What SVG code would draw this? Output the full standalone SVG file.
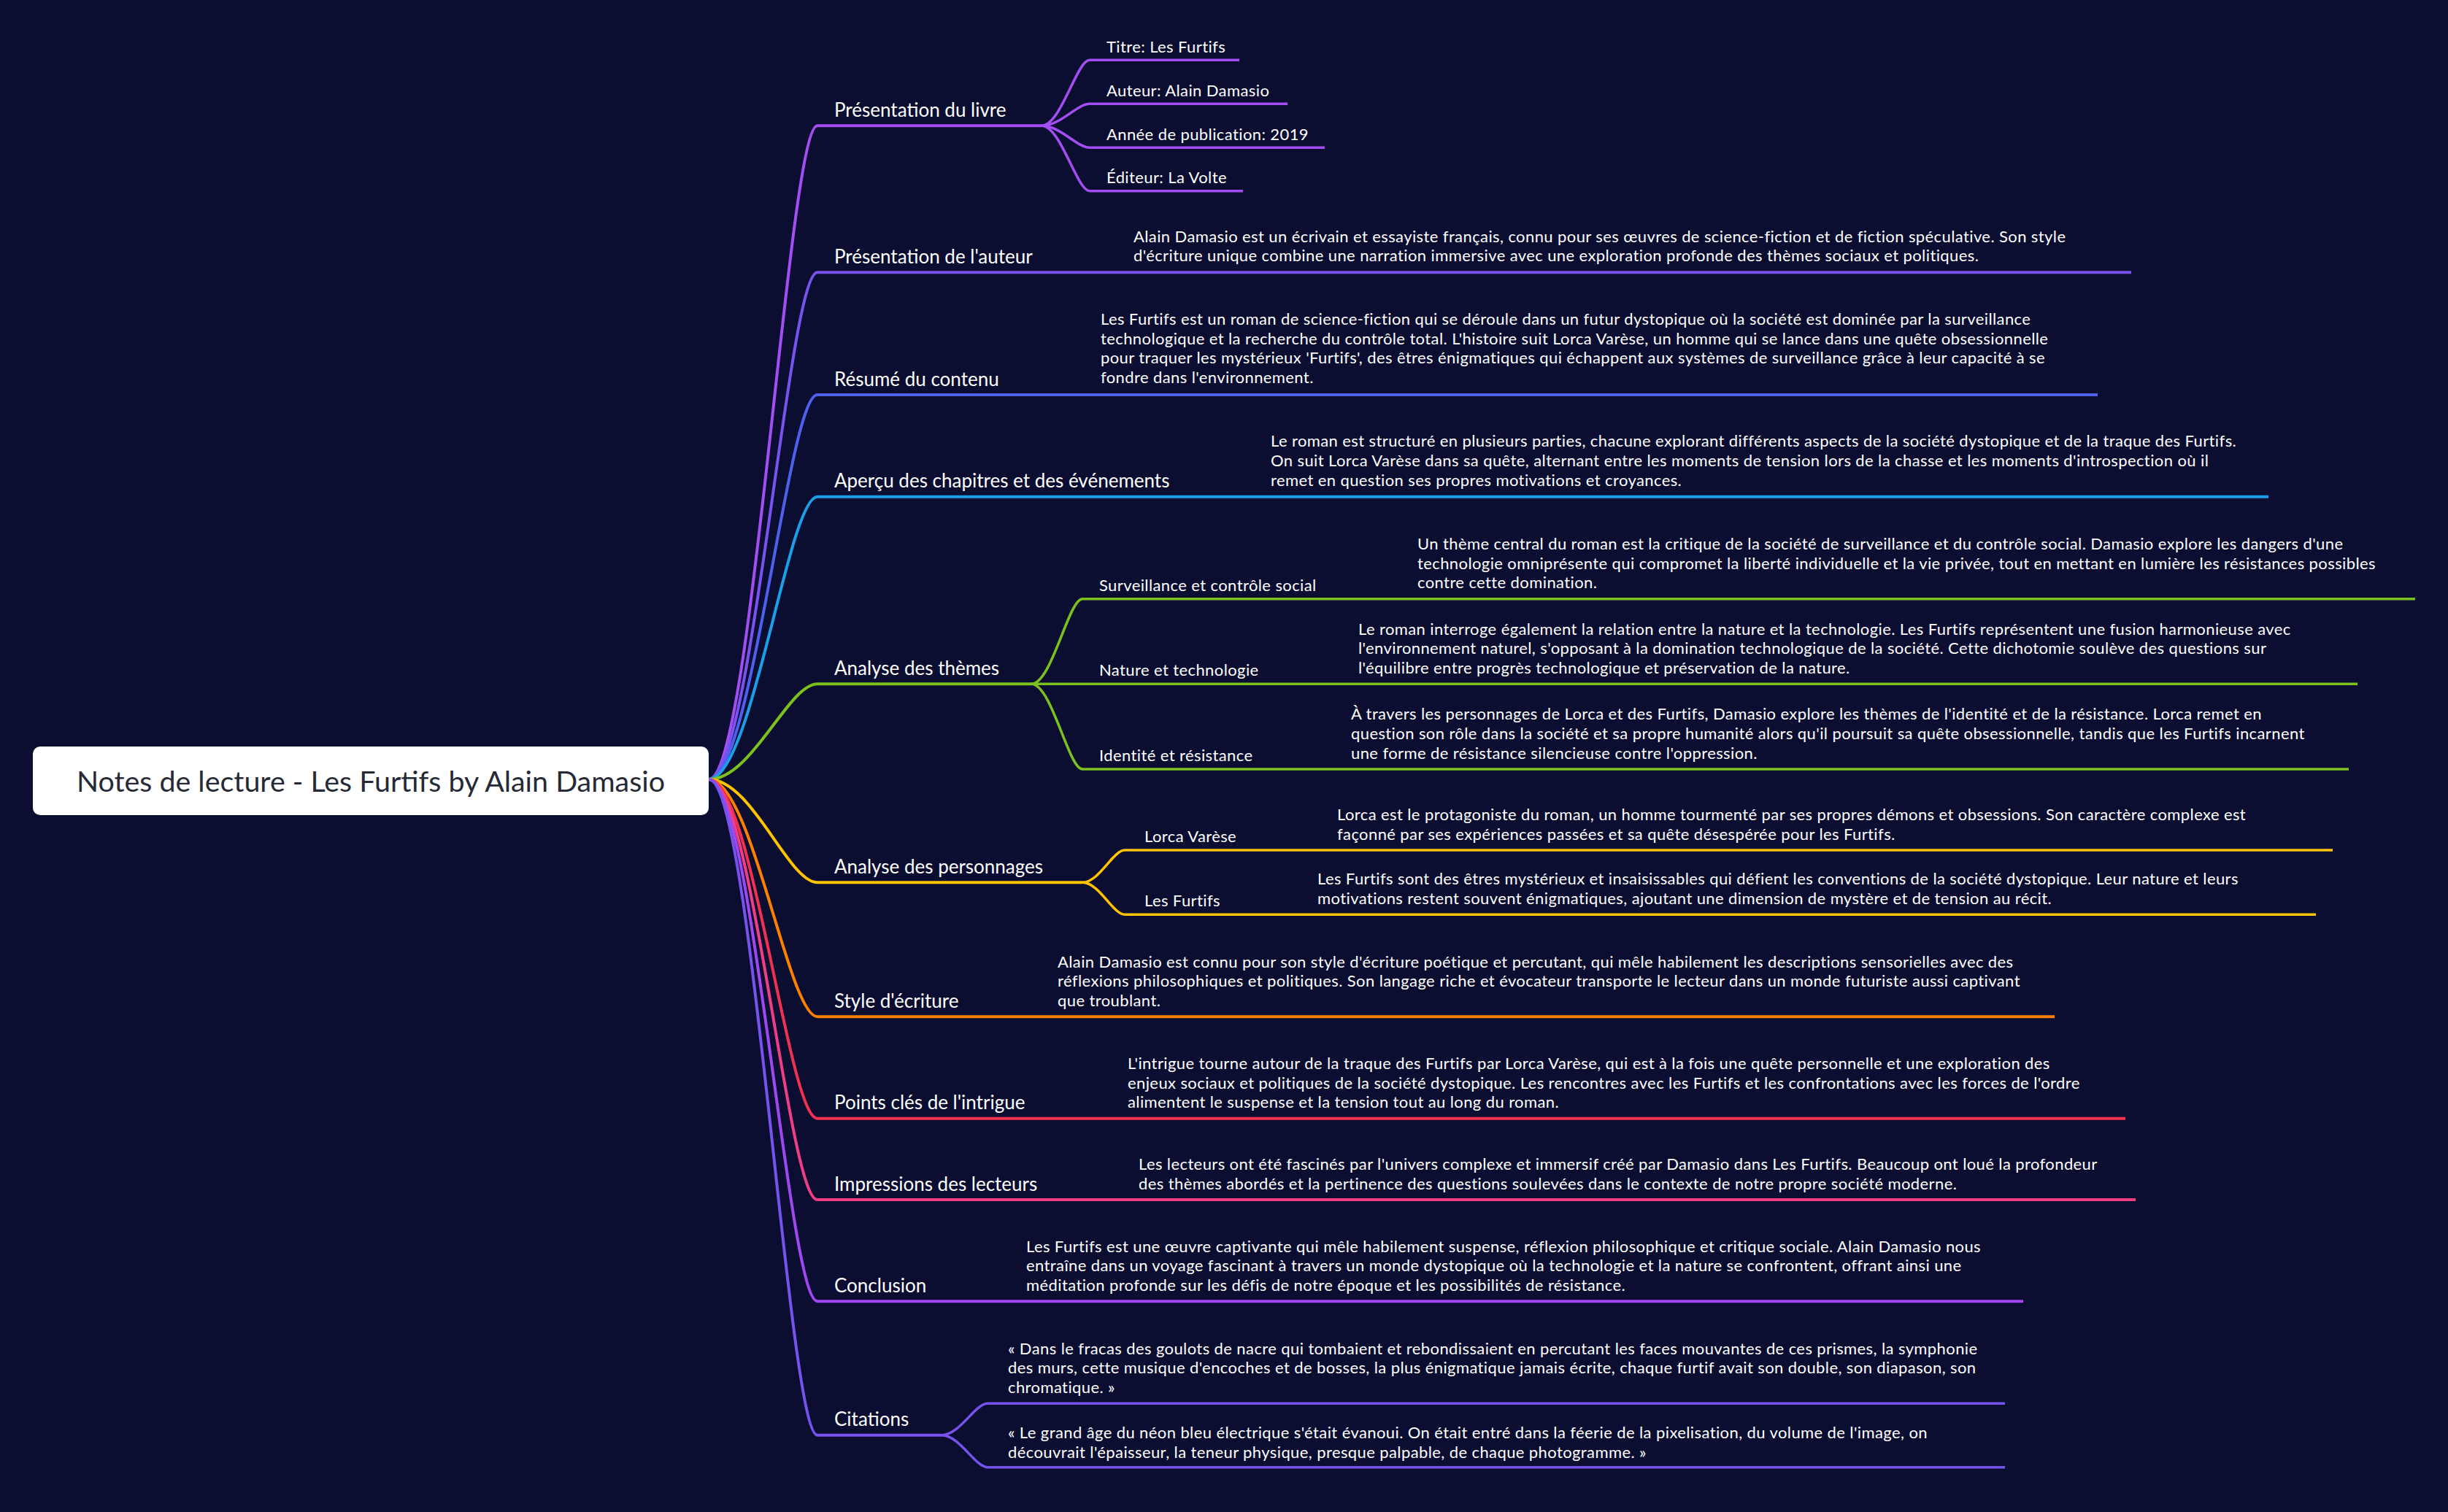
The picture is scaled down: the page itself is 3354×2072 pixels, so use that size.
<svg xmlns="http://www.w3.org/2000/svg" width="3354" height="2072" viewBox="0 0 3354 2072">
<style>
.t{font-family:Lato,"Open Sans","Liberation Sans",sans-serif;fill:#ffffff}
.l1{font-size:26px}
.l2{font-size:22px;letter-spacing:0.4px}
.root{font-family:Lato,"Open Sans","Liberation Sans",sans-serif;font-size:39.4px;fill:#262a36;text-anchor:middle}
.c{fill:none;stroke-width:4}
.c2{fill:none;stroke-width:3.5}
.u{fill:none;stroke-width:4}
.u2{fill:none;stroke-width:3.5}
.purple{stroke:#a24ef2}
.violet{stroke:#7a52ef}
.blue{stroke:#5060ee}
.sky{stroke:#1b9fe6}
.green{stroke:#7cc21f}
.yellow{stroke:#ffc300}
.orange{stroke:#ff8000}
.red{stroke:#f2304f}
.pink{stroke:#f03e84}
.purple2{stroke:#a147f0}
.violet2{stroke:#7753ee}
</style>
<rect width="3354" height="2072" fill="#0b0e31"/>

<g id="connectors">
<path class="c purple" d="M971 1068 C1030.6 1068 1079.8 172.3 1120 172.3"/>
<path class="c violet" d="M971 1068 C1030.6 1068 1079.8 373.3 1120 373.3"/>
<path class="c blue" d="M971 1068 C1030.6 1068 1079.8 541 1120 541"/>
<path class="c sky" d="M971 1068 C1030.6 1068 1079.8 680.7 1120 680.7"/>
<path class="c green" d="M971 1068 C1030.6 1068 1079.8 937.3 1120 937.3"/>
<path class="c yellow" d="M971 1068 C1030.6 1068 1079.8 1209.3 1120 1209.3"/>
<path class="c orange" d="M971 1068 C1030.6 1068 1079.8 1393.3 1120 1393.3"/>
<path class="c red" d="M971 1068 C1030.6 1068 1079.8 1532.7 1120 1532.7"/>
<path class="c pink" d="M971 1068 C1030.6 1068 1079.8 1644 1120 1644"/>
<path class="c purple2" d="M971 1068 C1030.6 1068 1079.8 1783.3 1120 1783.3"/>
<path class="c violet2" d="M971 1068 C1030.6 1068 1079.8 1966.7 1120 1966.7"/>

<path class="c2 purple" d="M1427 172.3 C1453.4 172.3 1475.2 82.3 1493 82.3"/>
<path class="c2 purple" d="M1427 172.3 C1453.4 172.3 1475.2 142.3 1493 142.3"/>
<path class="c2 purple" d="M1427 172.3 C1453.4 172.3 1475.2 202.3 1493 202.3"/>
<path class="c2 purple" d="M1427 172.3 C1453.4 172.3 1475.2 261.7 1493 261.7"/>

<path class="c2 green" d="M1413 937.3 C1441 937.3 1464 820.7 1483 820.7"/>
<path class="c2 green" d="M1413 937.3 L1483 937.3"/>
<path class="c2 green" d="M1413 937.3 C1441 937.3 1464 1054 1483 1054"/>

<path class="c2 yellow" d="M1483 1209.3 C1506 1209.3 1525 1165 1541 1165"/>
<path class="c2 yellow" d="M1483 1209.3 C1506 1209.3 1525 1253.3 1541 1253.3"/>

<path class="c2 violet2" d="M1290 1966.7 C1315 1966.7 1336 1923.3 1353 1923.3"/>
<path class="c2 violet2" d="M1290 1966.7 C1315 1966.7 1336 2010.7 1353 2010.7"/>
</g>

<g id="node-presentation-livre">
<path class="u purple" d="M1120 172.3 H1427"/>
<text class="t l1" x="1143" y="159.8">Présentation du livre</text>
</g>
<g id="node-titre">
<path class="u2 purple" d="M1493 82.3 H1698"/>
<text class="t l2" x="1516" y="71.8">Titre: Les Furtifs</text>
</g>
<g id="node-auteur">
<path class="u2 purple" d="M1493 142.3 H1764"/>
<text class="t l2" x="1516" y="131.8">Auteur: Alain Damasio</text>
</g>
<g id="node-annee">
<path class="u2 purple" d="M1493 202.3 H1815"/>
<text class="t l2" x="1516" y="191.8">Année de publication: 2019</text>
</g>
<g id="node-editeur">
<path class="u2 purple" d="M1493 261.7 H1703"/>
<text class="t l2" x="1516" y="251.2">Éditeur: La Volte</text>
</g>

<g id="node-presentation-auteur">
<path class="u violet" d="M1120 373.3 H1441"/>
<text class="t l1" x="1143" y="360.8">Présentation de l'auteur</text>
</g>
<g id="node-auteur-desc">
<path class="u violet" d="M1441 373.3 H2920"/>
<text class="t l2" x="1553"><tspan x="1553" y="331.6">Alain Damasio est un écrivain et essayiste français, connu pour ses œuvres de science-fiction et de fiction spéculative. Son style</tspan><tspan x="1553" y="358.3">d'écriture unique combine une narration immersive avec une exploration profonde des thèmes sociaux et politiques.</tspan></text>
</g>

<g id="node-resume">
<path class="u blue" d="M1120 541 H1396"/>
<text class="t l1" x="1143" y="528.5">Résumé du contenu</text>
</g>
<g id="node-resume-desc">
<path class="u blue" d="M1396 541 H2874"/>
<text class="t l2"><tspan x="1508" y="445">Les Furtifs est un roman de science-fiction qui se déroule dans un futur dystopique où la société est dominée par la surveillance</tspan><tspan x="1508" y="471.7">technologique et la recherche du contrôle total. L'histoire suit Lorca Varèse, un homme qui se lance dans une quête obsessionnelle</tspan><tspan x="1508" y="498.3">pour traquer les mystérieux 'Furtifs', des êtres énigmatiques qui échappent aux systèmes de surveillance grâce à leur capacité à se</tspan><tspan x="1508" y="525">fondre dans l'environnement.</tspan></text>
</g>

<g id="node-apercu">
<path class="u sky" d="M1120 680.7 H1629"/>
<text class="t l1" x="1143" y="668.2">Aperçu des chapitres et des événements</text>
</g>
<g id="node-apercu-desc">
<path class="u sky" d="M1629 680.7 H3108"/>
<text class="t l2"><tspan x="1741" y="612.3">Le roman est structuré en plusieurs parties, chacune explorant différents aspects de la société dystopique et de la traque des Furtifs.</tspan><tspan x="1741" y="639">On suit Lorca Varèse dans sa quête, alternant entre les moments de tension lors de la chasse et les moments d'introspection où il</tspan><tspan x="1741" y="665.7">remet en question ses propres motivations et croyances.</tspan></text>
</g>

<g id="node-themes">
<path class="u green" d="M1120 937.3 H1413"/>
<text class="t l1" x="1143" y="924.8">Analyse des thèmes</text>
</g>
<g id="node-surveillance">
<path class="u2 green" d="M1483 820.7 H1830"/>
<text class="t l2" x="1506" y="809.7">Surveillance et contrôle social</text>
</g>
<g id="node-surveillance-desc">
<path class="u2 green" d="M1830 820.7 H3309"/>
<text class="t l2"><tspan x="1942" y="752.9">Un thème central du roman est la critique de la société de surveillance et du contrôle social. Damasio explore les dangers d'une</tspan><tspan x="1942" y="779.5">technologie omniprésente qui compromet la liberté individuelle et la vie privée, tout en mettant en lumière les résistances possibles</tspan><tspan x="1942" y="806.2">contre cette domination.</tspan></text>
</g>
<g id="node-nature">
<path class="u2 green" d="M1483 937.3 H1751"/>
<text class="t l2" x="1506" y="926.3">Nature et technologie</text>
</g>
<g id="node-nature-desc">
<path class="u2 green" d="M1751 937.3 H3230"/>
<text class="t l2"><tspan x="1861" y="869.5">Le roman interroge également la relation entre la nature et la technologie. Les Furtifs représentent une fusion harmonieuse avec</tspan><tspan x="1861" y="896.1">l'environnement naturel, s'opposant à la domination technologique de la société. Cette dichotomie soulève des questions sur</tspan><tspan x="1861" y="922.8">l'équilibre entre progrès technologique et préservation de la nature.</tspan></text>
</g>
<g id="node-identite">
<path class="u2 green" d="M1483 1054 H1740"/>
<text class="t l2" x="1506" y="1043">Identité et résistance</text>
</g>
<g id="node-identite-desc">
<path class="u2 green" d="M1740 1054 H3218"/>
<text class="t l2"><tspan x="1851" y="986.2">À travers les personnages de Lorca et des Furtifs, Damasio explore les thèmes de l'identité et de la résistance. Lorca remet en</tspan><tspan x="1851" y="1012.8">question son rôle dans la société et sa propre humanité alors qu'il poursuit sa quête obsessionnelle, tandis que les Furtifs incarnent</tspan><tspan x="1851" y="1039.5">une forme de résistance silencieuse contre l'oppression.</tspan></text>
</g>

<g id="node-personnages">
<path class="u yellow" d="M1120 1209.3 H1483"/>
<text class="t l1" x="1143" y="1196.8">Analyse des personnages</text>
</g>
<g id="node-lorca">
<path class="u2 yellow" d="M1541 1165 H1720"/>
<text class="t l2" x="1568" y="1154">Lorca Varèse</text>
</g>
<g id="node-lorca-desc">
<path class="u2 yellow" d="M1720 1165 H3196"/>
<text class="t l2"><tspan x="1832" y="1123.8">Lorca est le protagoniste du roman, un homme tourmenté par ses propres démons et obsessions. Son caractère complexe est</tspan><tspan x="1832" y="1150.5">façonné par ses expériences passées et sa quête désespérée pour les Furtifs.</tspan></text>
</g>
<g id="node-furtifs">
<path class="u2 yellow" d="M1541 1253.3 H1694"/>
<text class="t l2" x="1568" y="1242.3">Les Furtifs</text>
</g>
<g id="node-furtifs-desc">
<path class="u2 yellow" d="M1694 1253.3 H3173"/>
<text class="t l2"><tspan x="1805" y="1212.1">Les Furtifs sont des êtres mystérieux et insaisissables qui défient les conventions de la société dystopique. Leur nature et leurs</tspan><tspan x="1805" y="1238.8">motivations restent souvent énigmatiques, ajoutant une dimension de mystère et de tension au récit.</tspan></text>
</g>

<g id="node-style">
<path class="u orange" d="M1120 1393.3 H1338"/>
<text class="t l1" x="1143" y="1380.8">Style d'écriture</text>
</g>
<g id="node-style-desc">
<path class="u orange" d="M1338 1393.3 H2815"/>
<text class="t l2"><tspan x="1449" y="1325.5">Alain Damasio est connu pour son style d'écriture poétique et percutant, qui mêle habilement les descriptions sensorielles avec des</tspan><tspan x="1449" y="1352.1">réflexions philosophiques et politiques. Son langage riche et évocateur transporte le lecteur dans un monde futuriste aussi captivant</tspan><tspan x="1449" y="1378.8">que troublant.</tspan></text>
</g>

<g id="node-intrigue">
<path class="u red" d="M1120 1532.7 H1432"/>
<text class="t l1" x="1143" y="1520.2">Points clés de l'intrigue</text>
</g>
<g id="node-intrigue-desc">
<path class="u red" d="M1432 1532.7 H2912"/>
<text class="t l2"><tspan x="1545" y="1464.9">L'intrigue tourne autour de la traque des Furtifs par Lorca Varèse, qui est à la fois une quête personnelle et une exploration des</tspan><tspan x="1545" y="1491.5">enjeux sociaux et politiques de la société dystopique. Les rencontres avec les Furtifs et les confrontations avec les forces de l'ordre</tspan><tspan x="1545" y="1518.2">alimentent le suspense et la tension tout au long du roman.</tspan></text>
</g>

<g id="node-impressions">
<path class="u pink" d="M1120 1644 H1447"/>
<text class="t l1" x="1143" y="1631.5">Impressions des lecteurs</text>
</g>
<g id="node-impressions-desc">
<path class="u pink" d="M1447 1644 H2926"/>
<text class="t l2"><tspan x="1560" y="1602.8">Les lecteurs ont été fascinés par l'univers complexe et immersif créé par Damasio dans Les Furtifs. Beaucoup ont loué la profondeur</tspan><tspan x="1560" y="1629.5">des thèmes abordés et la pertinence des questions soulevées dans le contexte de notre propre société moderne.</tspan></text>
</g>

<g id="node-conclusion">
<path class="u purple2" d="M1120 1783.3 H1293"/>
<text class="t l1" x="1143" y="1770.8">Conclusion</text>
</g>
<g id="node-conclusion-desc">
<path class="u purple2" d="M1293 1783.3 H2772"/>
<text class="t l2"><tspan x="1406" y="1715.5">Les Furtifs est une œuvre captivante qui mêle habilement suspense, réflexion philosophique et critique sociale. Alain Damasio nous</tspan><tspan x="1406" y="1742.1">entraîne dans un voyage fascinant à travers un monde dystopique où la technologie et la nature se confrontent, offrant ainsi une</tspan><tspan x="1406" y="1768.8">méditation profonde sur les défis de notre époque et les possibilités de résistance.</tspan></text>
</g>

<g id="node-citations">
<path class="u violet2" d="M1120 1966.7 H1290"/>
<text class="t l1" x="1143" y="1954.2">Citations</text>
</g>
<g id="node-citation-1">
<path class="u2 violet2" d="M1353 1923.3 H2747"/>
<text class="t l2"><tspan x="1381" y="1855.5">« Dans le fracas des goulots de nacre qui tombaient et rebondissaient en percutant les faces mouvantes de ces prismes, la symphonie</tspan><tspan x="1381" y="1882.1">des murs, cette musique d'encoches et de bosses, la plus énigmatique jamais écrite, chaque furtif avait son double, son diapason, son</tspan><tspan x="1381" y="1908.8">chromatique. »</tspan></text>
</g>
<g id="node-citation-2">
<path class="u2 violet2" d="M1353 2010.7 H2747"/>
<text class="t l2"><tspan x="1381" y="1970.9">« Le grand âge du néon bleu électrique s'était évanoui. On était entré dans la féerie de la pixelisation, du volume de l'image, on</tspan><tspan x="1381" y="1997.5">découvrait l'épaisseur, la teneur physique, presque palpable, de chaque photogramme. »</tspan></text>
</g>

<g id="node-root">
<rect x="45" y="1023" width="926" height="94" rx="10" fill="#ffffff"/>
<text class="root" x="508" y="1085">Notes de lecture - Les Furtifs by Alain Damasio</text>
</g>
</svg>
